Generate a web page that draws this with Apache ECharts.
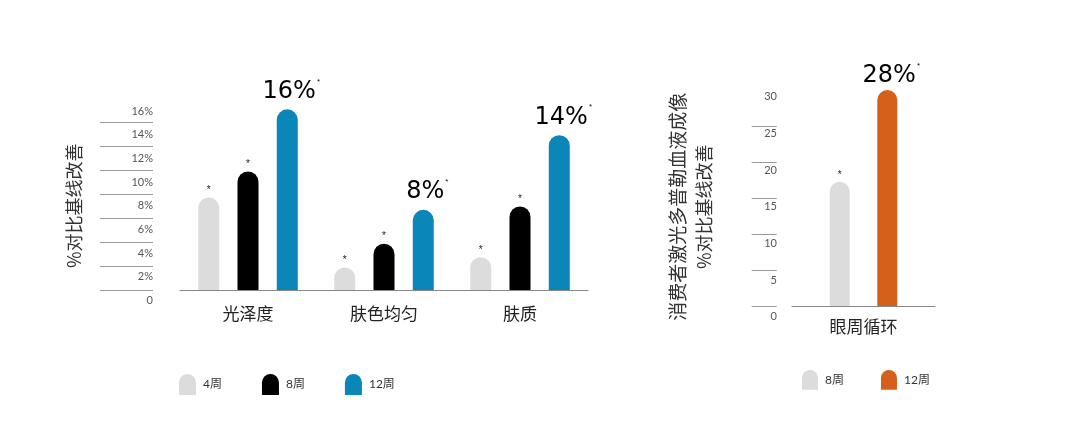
<!DOCTYPE html>
<html>
<head>
<meta charset="utf-8">
<script src="https://cdn.jsdelivr.net/npm/echarts@6/dist/echarts.min.js"></script>
<style>
  html, body { margin: 0; padding: 0; background: #fff; }
  #left { position: absolute; left: 0; top: 0; width: 640px; height: 441px; }
  #right { position: absolute; left: 640px; top: 0; width: 440px; height: 441px; }
</style>
</head>
<body>
<div id="left"></div>
<div id="right"></div>
<script>
// left chart data
var skinCategories = ['光泽度', '肤色均匀', '肤质'];
var week4 = [8.2, 2.0, 2.9];
var week8 = [10.5, 4.1, 7.4];
var week12 = [16, 7.1, 13.7];
var week12Labels = ['16%', '8%', '14%'];
var leftTicks = ['0', '2%', '4%', '6%', '8%', '10%', '12%', '14%', '16%'];

// right chart data
var eyeCategories = ['眼周循环'];
var eyeWeek8 = [16.1];
var eyeWeek12 = [28];
var eyeWeek12Labels = ['28%'];
var rightTicks = ['0', '5', '10', '15', '20', '25', '30'];

var cjk = '"Noto Sans CJK SC", sans-serif';
var thin = 'Lato, "Noto Sans CJK SC", sans-serif';
var barIcon = 'path://M0,8.5A8.5,8.5,0,0,1,17,8.5L17,21L0,21Z';

var star = {
    show: true,
    position: 'top',
    distance: 2,
    formatter: '*',
    fontSize: 10,
    color: '#222'
};

function bigLabel(texts, dist) {
    return {
        show: true,
        position: 'top',
        distance: dist,
        offset: [4, 0],
        formatter: function (p) { return '{v|' + texts[p.dataIndex] + '}{s|*}'; },
        rich: {
            v: { fontFamily: '"DejaVu Sans", sans-serif', fontSize: 24, color: '#000', lineHeight: 28 },
            s: { fontSize: 8, color: '#111', verticalAlign: 'top', lineHeight: 28, padding: [0, 0, 16, 1] }
        }
    };
}

// ---------- left ----------
var leftChart = echarts.init(document.getElementById('left'));
var leftOption = {
    animation: false,
    legend: {
        left: 174,
        top: 369,
        itemWidth: 17,
        itemHeight: 21,
        itemGap: 40,
        icon: barIcon,
        textStyle: { fontFamily: thin, fontSize: 12, color: '#333', padding: [10, 0, 0, 2] },
        data: ['4周', '8周', '12周']
    },
    grid: [
        { left: 180, right: 52, top: 109.3, bottom: 151 },
        { left: 155, width: 10, top: 111, bottom: 140.5 },
        { left: 100, width: 53, top: 122.3, bottom: 150.7 }
    ],
    xAxis: [
        {
            gridIndex: 0,
            type: 'category',
            data: skinCategories,
            axisLine: { lineStyle: { color: '#888', width: 1 } },
            axisTick: { show: false },
            axisLabel: { fontFamily: cjk, fontSize: 17, color: '#222', margin: 15 }
        },
        { gridIndex: 1, type: 'value', show: false },
        { gridIndex: 2, type: 'value', show: false }
    ],
    yAxis: [
        { gridIndex: 0, type: 'value', min: 0, max: 16, show: false },
        {
            gridIndex: 1,
            type: 'category',
            data: leftTicks,
            boundaryGap: false,
            axisLine: { show: false },
            axisTick: { show: false },
            axisLabel: { fontFamily: thin, fontSize: 11, color: '#555', margin: 2 },
            name: '%对比基线改善',
            nameLocation: 'middle',
            nameRotate: 90,
            nameGap: 72,
            nameTextStyle: { fontFamily: cjk, fontSize: 18, color: '#333' }
        },
        {
            gridIndex: 2,
            type: 'value',
            min: 0,
            max: 14,
            interval: 2,
            axisLine: { show: false },
            axisTick: { show: false },
            axisLabel: { show: false },
            splitLine: { show: true, lineStyle: { color: '#999', width: 1 } }
        }
    ],
    series: [
        {
            name: '4周', type: 'bar', data: week4,
            barWidth: 21, barGap: '87%',
            itemStyle: { color: '#dcdcdc', borderRadius: [10.5, 10.5, 0, 0] },
            label: star
        },
        {
            name: '8周', type: 'bar', data: week8,
            barWidth: 21, barGap: '87%',
            itemStyle: { color: '#000000', borderRadius: [10.5, 10.5, 0, 0] },
            label: star
        },
        {
            name: '12周', type: 'bar', data: week12,
            barWidth: 21, barGap: '87%',
            itemStyle: { color: '#0a86b8', borderRadius: [10.5, 10.5, 0, 0] },
            label: bigLabel(week12Labels, 4)
        }
    ]
};
leftChart.setOption(leftOption);

// ---------- right ----------
var rightChart = echarts.init(document.getElementById('right'));
var rightOption = {
    animation: false,
    legend: {
        left: 157,
        top: 365,
        itemWidth: 16,
        itemHeight: 21,
        itemGap: 37,
        icon: barIcon,
        textStyle: { fontFamily: thin, fontSize: 12, color: '#333', padding: [9, 0, 0, 2] },
        data: ['8周', '12周']
    },
    grid: [
        { left: 152, right: 145, top: 90, bottom: 135 },
        { left: 139, width: 10, top: 96.7, bottom: 124.3 },
        { left: 111.7, width: 25, top: 126, bottom: 134.3 }
    ],
    xAxis: [
        {
            gridIndex: 0,
            type: 'category',
            data: eyeCategories,
            axisLine: { lineStyle: { color: '#888', width: 1 } },
            axisTick: { show: false },
            axisLabel: { fontFamily: cjk, fontSize: 17, color: '#222', margin: 12 }
        },
        { gridIndex: 1, type: 'value', show: false },
        { gridIndex: 2, type: 'value', show: false }
    ],
    yAxis: [
        { gridIndex: 0, type: 'value', min: 0, max: 28, show: false },
        {
            gridIndex: 1,
            type: 'category',
            data: rightTicks,
            boundaryGap: false,
            axisLine: { show: false },
            axisTick: { show: false },
            axisLabel: { fontFamily: thin, fontSize: 11, color: '#555', margin: 2 },
            name: '{a|消费者激光多普勒血液成像}\n{b|%对比基线改善}',
            nameLocation: 'middle',
            nameRotate: 90,
            nameGap: 62,
            nameTextStyle: {
                rich: {
                    a: { fontFamily: cjk, fontSize: 19, color: '#333', lineHeight: 26 },
                    b: { fontFamily: cjk, fontSize: 18, color: '#333', lineHeight: 26 }
                }
            }
        },
        {
            gridIndex: 2,
            type: 'value',
            min: 0,
            max: 25,
            interval: 5,
            axisLine: { show: false },
            axisTick: { show: false },
            axisLabel: { show: false },
            splitLine: { show: true, lineStyle: { color: '#999', width: 1 } }
        }
    ],
    series: [
        {
            name: '8周', type: 'bar', data: eyeWeek8,
            barWidth: 20, barGap: '138%',
            itemStyle: { color: '#dcdcdc', borderRadius: [10, 10, 0, 0] },
            label: star
        },
        {
            name: '12周', type: 'bar', data: eyeWeek12,
            barWidth: 20, barGap: '138%',
            itemStyle: { color: '#d4601c', borderRadius: [10, 10, 0, 0] },
            label: bigLabel(eyeWeek12Labels, 0)
        }
    ]
};
rightChart.setOption(rightOption);
</script>
</body>
</html>
